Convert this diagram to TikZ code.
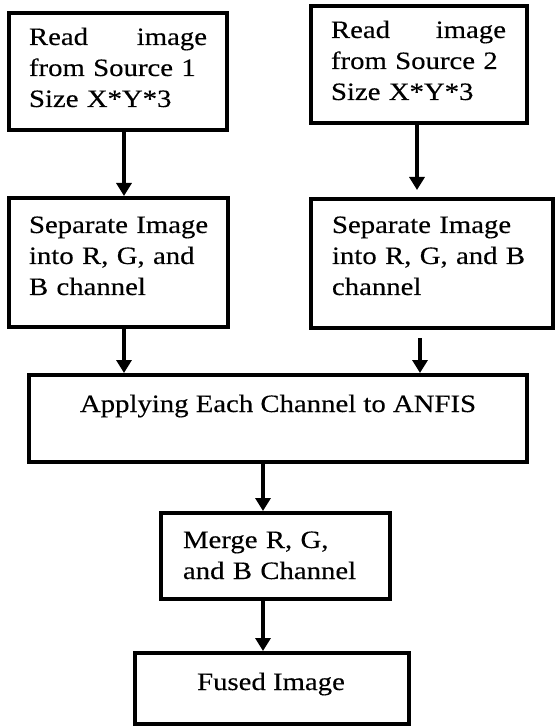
\documentclass[tikz,border=0pt]{standalone}
\usepackage{fontspec}
\setmainfont[FakeStretch=1.15,FakeBold=0.3]{Liberation Serif}
\usetikzlibrary{arrows.meta}
\begin{document}
\begin{tikzpicture}[x=1pt,y=-1pt,
  box/.style={draw=black,line width=4pt,inner sep=0pt,outer sep=0pt,fill=white},
  txt/.style={inner sep=0pt,outer sep=0pt,font=\fontsize{25}{31}\selectfont,align=left},
  arr/.style={line width=3.5pt,-{Triangle[length=13pt,width=15pt]},shorten >=2pt}]
\useasboundingbox[fill=white] (0,0) rectangle (555,727);
% boxes
\node[box,minimum width=218pt,minimum height=117pt] (b1) at (118,71.5) {};
\node[box,minimum width=216pt,minimum height=117pt] (b2) at (419,64.5) {};
\node[box,minimum width=219pt,minimum height=129pt] (b3) at (118.5,262.5) {};
\node[box,minimum width=242pt,minimum height=129pt] (b4) at (432,263.5) {};
\node[box,minimum width=498pt,minimum height=87pt] (b5) at (278,418.5) {};
\node[box,minimum width=229pt,minimum height=86pt] (b6) at (275.5,556) {};
\node[box,minimum width=274pt,minimum height=71pt] (b7) at (272,688.5) {};
% texts
\node[txt,text width=178pt,anchor=base west] (t1) at (29,45) {Read\hfill image\\from Source 1\\Size X*Y*3};
\node[txt,text width=175pt,anchor=base west] (t2) at (331,38) {Read\hfill image\\from Source 2\\Size X*Y*3};
\node[txt,text width=185pt,anchor=base west] (t3) at (29,233) {Separate Image\\into R, G, and\\B channel};
\node[txt,text width=195pt,anchor=base west] (t4) at (332,233) {Separate Image\\into R, G, and B\\channel};
\node[txt,anchor=base] (t5) at (278,412) {Applying Each Channel to ANFIS};
\node[txt,text width=190pt,anchor=base west] (t6) at (183,548) {Merge R, G,\\and B Channel};
\node[txt,anchor=base] (t7) at (271,690) {Fused Image};
% arrows
\draw[arr] ([xshift=6pt]b1.south) -- ([xshift=6pt]b1.south |- b3.north);
\draw[arr,shorten >=9pt] ([xshift=-2pt]b2.south) -- ([xshift=-2pt]b2.south |- b4.north);
\draw[arr] ([xshift=5.5pt]b3.south) -- ([xshift=5.5pt]b3.south |- b5.north);
\draw[arr,shorten <=10pt] ([xshift=-12pt]b4.south) -- ([xshift=-12pt]b4.south |- b5.north);
\draw[arr] ([xshift=-15pt]b5.south) -- ([xshift=-15pt]b5.south |- b6.north);
\draw[arr] ([xshift=-12.5pt]b6.south) -- ([xshift=-12.5pt]b6.south |- b7.north);
\end{tikzpicture}
\end{document}
